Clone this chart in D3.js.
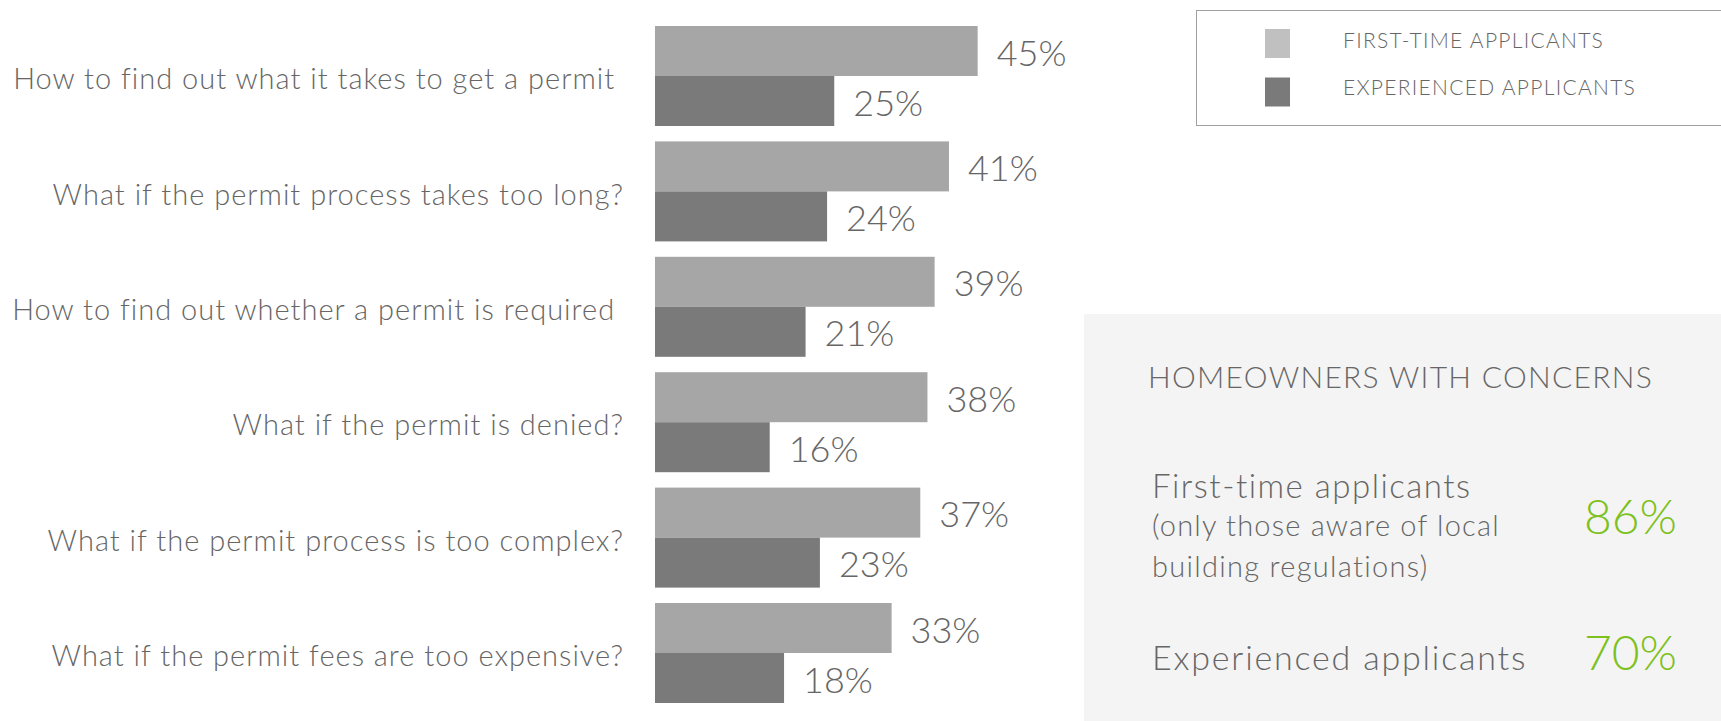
<!DOCTYPE html>
<html>
<head>
<meta charset="utf-8">
<script src="https://cdn.jsdelivr.net/npm/d3@7"></script>
<style>
  body { margin: 0; background: #fff; }
  svg text { font-family: "Lato", "Open Sans", sans-serif; font-weight: 300; fill: #666; }
</style>
</head>
<body>
<div id="chart"></div>
<script>
// data
var categories = [
    "How to find out what it takes to get a permit ",
    "What if the permit process takes too long?",
    "How to find out whether a permit is required ",
    "What if the permit is denied?",
    "What if the permit process is too complex?",
    "What if the permit fees are too expensive?"
];
var firstTime = [45, 41, 39, 38, 37, 33];
var experienced = [25, 24, 21, 16, 23, 18];
var seriesNames = ["FIRST-TIME APPLICANTS", "EXPERIENCED APPLICANTS"];
var summaryTitle = "HOMEOWNERS WITH CONCERNS";
var summaryLabels = [
    ["First-time applicants", "(only those aware of local", "building regulations)"],
    ["Experienced applicants"]
];
var summaryValues = [86, 70];

var opts = {
    barColors: ['#a6a6a6', '#7a7a7a'],
    legendColors: ['#c0c0c0', '#7a7a7a'],
    green: '#7dc11c',
    panel: '#f4f4f4'
};

var W = 1721, H = 721;
var svg = d3.select('#chart').append('svg').attr('width', W).attr('height', H);

// scales
var step = 115.4;
var y0 = d3.scaleBand().domain(categories)
    .range([26 - 7.7, 26 - 7.7 + step * categories.length])
    .paddingInner(15.4 / step).paddingOuter(7.7 / step);
var y1 = d3.scaleBand().domain([0, 1]).range([0, y0.bandwidth()]);
var x = d3.scaleLinear().domain([0, 100]).range([655, 655 + 717]);

var rows = categories.map(function (c, i) {
    return { cat: c, vals: [firstTime[i], experienced[i]] };
});

// category labels
svg.append('g').selectAll('text').data(rows).join('text')
    .attr('x', 624)
    .attr('y', function (d) { return y0(d.cat) + y0.bandwidth() / 2 + 3; })
    .attr('dy', '0.35em')
    .attr('text-anchor', 'end')
    .style('white-space', 'pre')
    .style('font-size', '29px')
    .style('letter-spacing', '1px')
    .text(function (d) { return d.cat; });

// bars + value labels
var grp = svg.append('g').selectAll('g').data(rows).join('g')
    .attr('transform', function (d) { return 'translate(0,' + y0(d.cat) + ')'; });

grp.selectAll('rect').data(function (d) { return d.vals; }).join('rect')
    .attr('x', x(0))
    .attr('y', function (d, i) { return y1(i); })
    .attr('width', function (d) { return x(d) - x(0); })
    .attr('height', y1.bandwidth())
    .attr('fill', function (d, i) { return opts.barColors[i]; });

grp.selectAll('text').data(function (d) { return d.vals; }).join('text')
    .attr('x', function (d) { return x(d) + 19; })
    .attr('y', function (d, i) { return y1(i) + y1.bandwidth() / 2 + 2; })
    .attr('dy', '0.35em')
    .style('font-size', '36px')
    .text(function (d) { return d + '%'; });

// legend
var lg = svg.append('g');
lg.append('rect').attr('x', 1196.5).attr('y', 10.5).attr('width', 530).attr('height', 115)
    .attr('fill', 'none').attr('stroke', '#a0a0a0');
lg.selectAll('rect.sw').data(seriesNames).join('rect').attr('class', 'sw')
    .attr('x', 1265).attr('y', function (d, i) { return 29 + i * 48.5; })
    .attr('width', 25).attr('height', 29)
    .attr('fill', function (d, i) { return opts.legendColors[i]; });
lg.selectAll('text').data(seriesNames).join('text')
    .attr('x', 1343).attr('y', function (d, i) { return 41 + i * 47; })
    .attr('dy', '0.35em')
    .style('font-size', '21px')
    .style('letter-spacing', '1.3px')
    .text(function (d) { return d; });

// summary panel
var pn = svg.append('g');
pn.append('rect').attr('x', 1084).attr('y', 314).attr('width', W - 1084).attr('height', H - 314)
    .attr('fill', opts.panel);
pn.append('text').attr('x', 1148).attr('y', 388)
    .style('font-size', '30px').style('letter-spacing', '1.3px').text(summaryTitle);

// baselines, sizes, spacing per line
var lineBase = [[498, 536, 577], [670]];
var lineSizes = [[33, 29, 29], [34]];
var lineLs = [[1.5, 1.2, 1.3], [1.8]];
summaryLabels.forEach(function (lines, k) {
    lines.forEach(function (t, j) {
        pn.append('text').attr('x', 1152).attr('y', lineBase[k][j])
            .style('font-size', lineSizes[k][j] + 'px')
            .style('letter-spacing', lineLs[k][j] + 'px')
            .text(t);
    });
});
pn.selectAll('text.val').data(summaryValues).join('text').attr('class', 'val')
    .attr('x', 1677).attr('y', function (d, i) { return [534, 670][i]; })
    .attr('text-anchor', 'end')
    .style('font-size', '48px').style('fill', opts.green)
    .text(function (d) { return d + '%'; });
</script>
</body>
</html>
